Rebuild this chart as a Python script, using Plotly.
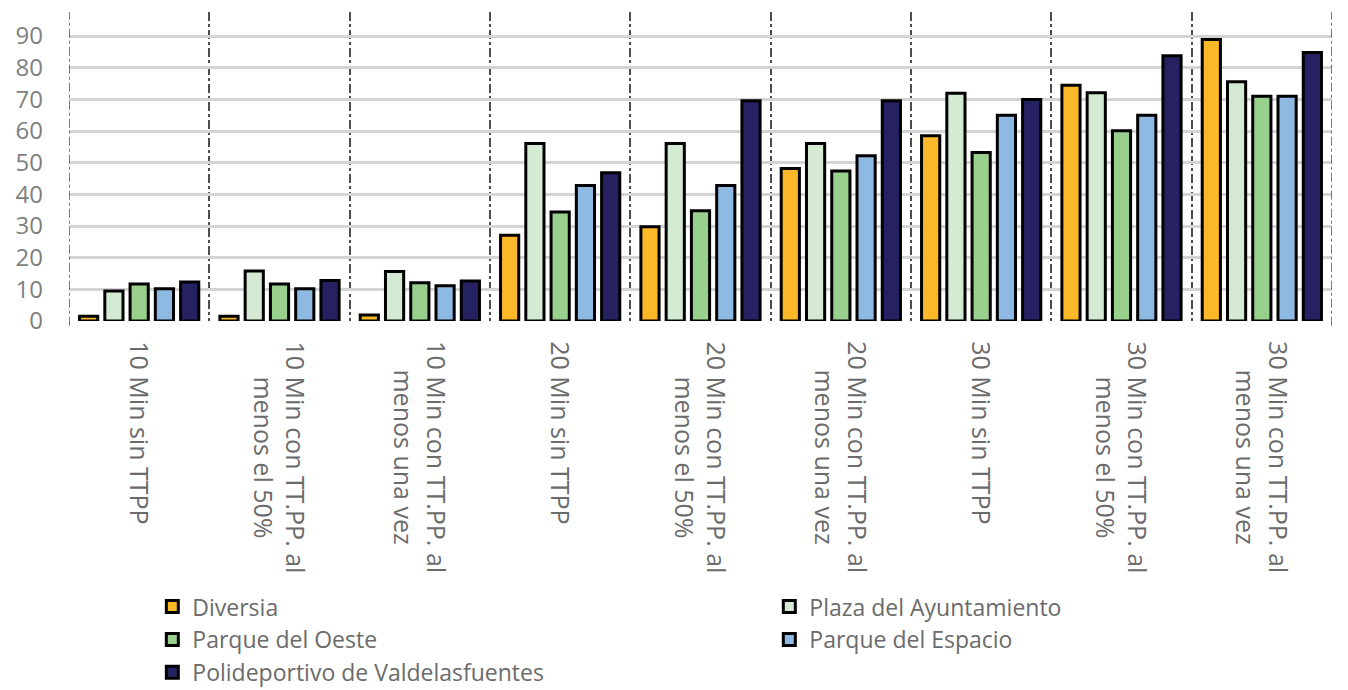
import plotly.graph_objects as go

# Category labels (line break where the label wraps)
categories = [
    "10 Min sin TTPP",
    "10 Min con TT.PP. al<br>menos el 50%",
    "10 Min con TT.PP. al<br>menos una vez",
    "20 Min sin TTPP",
    "20 Min con TT.PP. al<br>menos el 50%",
    "20 Min con TT.PP. al<br>menos una vez",
    "30 Min sin TTPP",
    "30 Min con TT.PP. al<br>menos el 50%",
    "30 Min con TT.PP. al<br>menos una vez",
]

diversia = [1.5, 1.5, 1.9, 27.1, 29.8, 48.2, 58.5, 74.5, 88.9]
plaza_ayuntamiento = [9.5, 15.8, 15.6, 56.1, 56.1, 56.1, 71.9, 72.1, 75.6]
parque_oeste = [11.7, 11.7, 12.1, 34.4, 34.8, 47.4, 53.2, 60.1, 71.0]
parque_espacio = [10.2, 10.2, 11.1, 42.8, 42.8, 52.2, 65.0, 65.0, 71.0]
polideportivo = [12.3, 12.8, 12.6, 46.8, 69.6, 69.6, 70.0, 83.8, 84.8]

series_names = [
    "Diversia",
    "Plaza del Ayuntamiento",
    "Parque del Oeste",
    "Parque del Espacio",
    "Polideportivo de Valdelasfuentes",
]
series_values = [diversia, plaza_ayuntamiento, parque_oeste, parque_espacio, polideportivo]
series_colors = ["#FBB829", "#D5EAD3", "#99D08D", "#8DB9E2", "#262262"]

y_ticks = [0, 10, 20, 30, 40, 50, 60, 70, 80, 90]

fig = go.Figure()
for name, vals, color in zip(series_names, series_values, series_colors):
    fig.add_trace(go.Bar(
        name=name,
        x=list(range(len(categories))),
        y=vals,
        marker=dict(color=color, line=dict(color="#000000", width=3)),
    ))

# Category labels, rotated and centred line by line
for i, label in enumerate(categories):
    fig.add_annotation(
        x=i, y=-0.058, xref="x", yref="paper",
        text=label, textangle=90, showarrow=False,
        xanchor="center", yanchor="top", align="center",
        font=dict(family="Open Sans", size=25, color="#6b6b6b"),
    )

# Dash-dot separators on the outer edges of the category band
for edge in (-0.5, len(categories) - 0.5):
    fig.add_shape(
        type="line", xref="x", yref="paper",
        x0=edge, x1=edge, y0=-0.015, y1=1,
        line=dict(color="#4d4d4d", width=1.5, dash="dashdot"),
    )

fig.update_layout(
    width=1348, height=690,
    margin=dict(l=69, r=16, t=12, b=369),
    paper_bgcolor="white", plot_bgcolor="white",
    barmode="group", bargap=0.10, bargroupgap=0.28,
    showlegend=True,
    legend=dict(
        orientation="h",
        xref="container", yref="container",
        x=0.113, xanchor="left", y=0.152, yanchor="top",
        entrywidth=572, entrywidthmode="pixels",
        font=dict(family="Open Sans", size=23, color="#6b6b6b"),
        itemwidth=30, tracegroupgap=0,
    ),
)

fig.update_xaxes(
    type="linear",
    range=[-0.5, len(categories) - 0.5],
    tickvals=[i - 0.5 for i in range(len(categories) + 1)],
    showticklabels=False,
    showgrid=True, gridcolor="#4d4d4d", gridwidth=1.5, griddash="dashdot",
    zeroline=False, showline=False, ticks="",
)
fig.update_yaxes(
    range=[0, 97.6],
    tickvals=y_ticks,
    showgrid=True, gridcolor="#d4d4d4", gridwidth=2.5,
    zeroline=False, showline=False, ticks="",
    ticklabelstandoff=25,
    tickfont=dict(family="Open Sans", size=24, color="#808080"),
)

fig.write_html("out.html")
